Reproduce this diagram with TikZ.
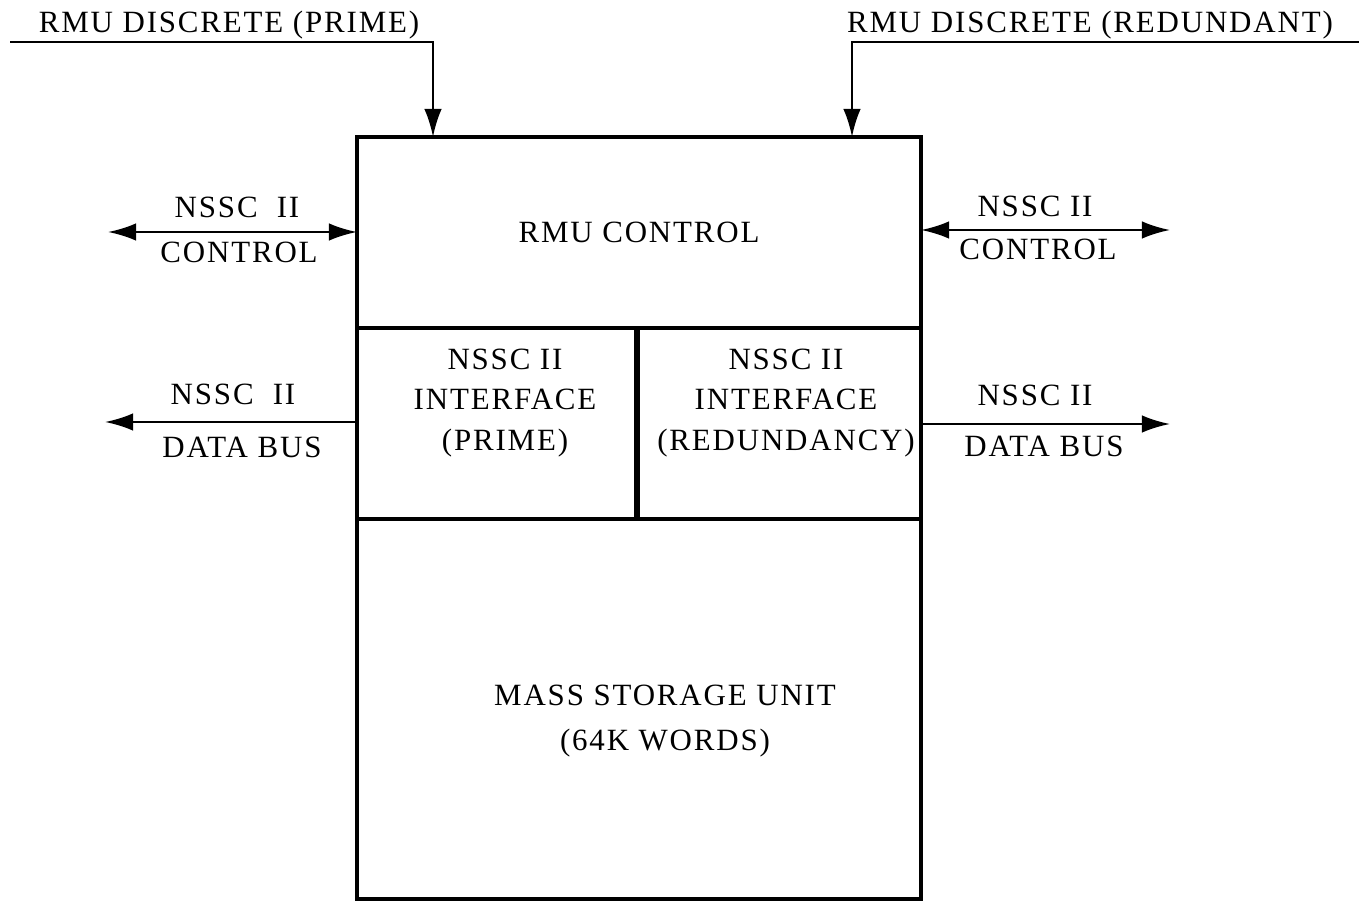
\documentclass[tikz,border=0pt]{standalone}
\usepackage{fontspec}
\setmainfont{Liberation Serif}[LetterSpace=6]
\usepackage{tikz}
\usetikzlibrary{arrows.meta,positioning,calc}

\tikzset{
    part/.style={draw, line width=0.9pt, inner sep=0pt, outer sep=0pt, anchor=north west, align=center},
    lbl/.style={inner sep=0pt, anchor=base, align=center},
    sig/.style={line width=0.7pt},
    head/.tip={Latex[length=8pt,width=5pt]}
}

\begin{document}
\fontsize{8.8}{11.6}\selectfont
\begin{tikzpicture}
    \useasboundingbox (0,0) rectangle (13.59,9.03);
    % unit blocks
    \node[part, minimum width=5.64cm, minimum height=1.91cm] (rmu) at (3.57,7.66) {RMU CONTROL};
    \node[part, minimum width=2.80cm, minimum height=1.91cm] (ifp) at (rmu.south west) {};
    \node[part, minimum width=2.84cm, minimum height=1.91cm] (ifr) at (ifp.north east) {};
    \node[part, minimum width=5.64cm, minimum height=3.80cm] (mass) at (ifp.south west) {};
    \draw[line width=1.6pt] (ifp.north east) -- (ifp.south east);
    \node[align=center, inner sep=0pt] (ifptxt) at (5.05,5.0) {NSSC II\\INTERFACE\\(PRIME)};
    \node[align=center, inner sep=0pt] (ifrtxt) at (7.86,5.0) {NSSC II\\INTERFACE\\(REDUNDANCY)};
    \node[align=center, inner sep=0pt] (masstxt) at (6.65,1.82) {MASS STORAGE UNIT\\[1.2pt](64K WORDS)};

    % discretes
    \coordinate (dscP) at (0.10,8.61);
    \coordinate (dscR) at (13.59,8.61);
    \draw[sig,-head] (dscP) -| ([xshift=7.6mm]rmu.north west);
    \draw[sig,-head] (dscR) -| ([xshift=-6.9mm]rmu.north east);
    \node[lbl] (dscPtxt) at (2.29,8.70) {RMU DISCRETE (PRIME)};
    \node[lbl] (dscRtxt) at (10.90,8.70) {RMU DISCRETE (REDUNDANT)};

    % left side
    \coordinate (ctlL) at (1.08,6.71);
    \coordinate (busL) at (1.05,4.81);
    \draw[sig,head-head] (ctlL) -- (ctlL -| rmu.west);
    \draw[sig,-head] (busL -| ifp.west) -- (busL);
    \node[lbl] (ctlLa) at (2.37,6.85) {NSSC\ \ II};
    \node[lbl] (ctlLb) at (2.39,6.40) {CONTROL};
    \node[lbl] (busLa) at (2.33,4.98) {NSSC\ \ II};
    \node[lbl] (busLb) at (2.42,4.45) {DATA BUS};

    % right side
    \coordinate (ctlR) at (11.70,6.73);
    \coordinate (busR) at (11.70,4.79);
    \draw[sig,head-head] (ctlR -| rmu.east) -- (ctlR);
    \draw[sig,-head] (busR -| ifr.east) -- (busR);
    \node[lbl] (ctlRa) at (10.35,6.86) {NSSC II};
    \node[lbl] (ctlRb) at (10.38,6.43) {CONTROL};
    \node[lbl] (busRa) at (10.35,4.97) {NSSC II};
    \node[lbl] (busRb) at (10.44,4.46) {DATA BUS};
\end{tikzpicture}
\end{document}
